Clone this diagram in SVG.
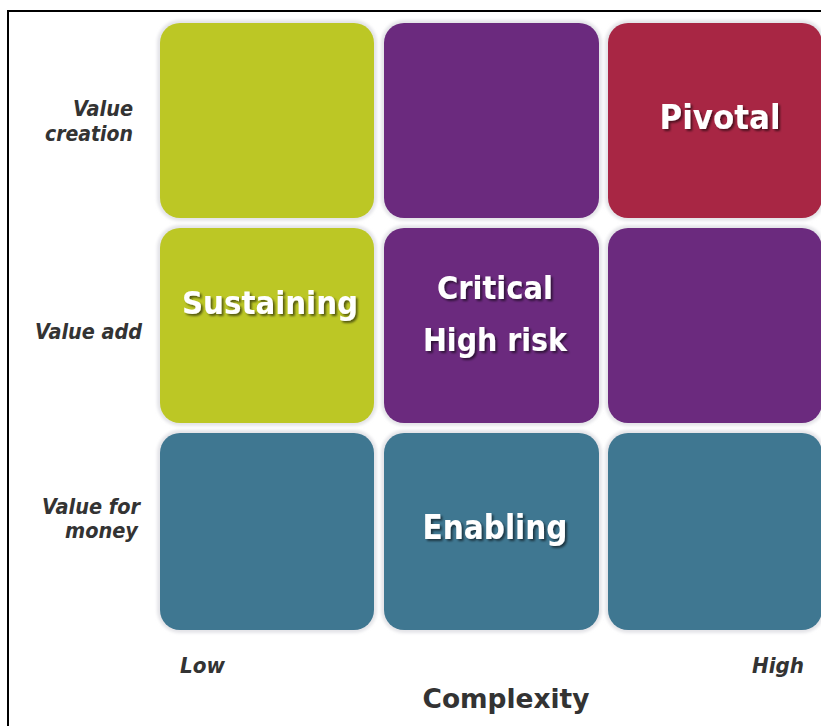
<svg xmlns="http://www.w3.org/2000/svg" width="821" height="726" viewBox="0 0 821 726">
  <defs>
    <filter id="shadow" x="-10%" y="-20%" width="130%" height="160%">
      <feDropShadow dx="2" dy="2" stdDeviation="1" flood-color="#000" flood-opacity="0.55"/>
    </filter>
    <filter id="halo" x="-5%" y="-5%" width="110%" height="110%">
      <feGaussianBlur stdDeviation="1.5"/>
    </filter>
  </defs>
  <style>
    .halo { fill: #e4e4e8; filter: url(#halo); }
    .green { fill: #bcc725; }
    .purple { fill: #6b2a7e; }
    .red { fill: #a82644; }
    .teal { fill: #3f7791; }
    .tile-label { font-family: "DejaVu Sans", Verdana, sans-serif; font-weight: bold; fill: #ffffff; text-anchor: middle; filter: url(#shadow); }
    .axis { font-family: "DejaVu Sans", Verdana, sans-serif; font-weight: bold; font-style: italic; fill: #333333; font-size: 21px; }
    .title { font-family: "DejaVu Sans", Verdana, sans-serif; font-weight: bold; fill: #333333; font-size: 27px; text-anchor: middle; }
  </style>

  <rect x="0" y="0" width="821" height="726" fill="#ffffff"/>
  <!-- frame -->
  <rect x="8" y="11" width="840" height="740" fill="none" stroke="#000000" stroke-width="2"/>

  <!-- row 1: value creation -->
  <g id="tile-r1c1">
    <rect class="halo" x="157" y="20" width="220" height="201" rx="23"/>
    <rect class="green" x="160" y="23" width="214" height="195" rx="20"/>
  </g>
  <g id="tile-r1c2">
    <rect class="halo" x="381" y="20" width="221" height="201" rx="23"/>
    <rect class="purple" x="384" y="23" width="215" height="195" rx="20"/>
  </g>
  <g id="tile-r1c3">
    <rect class="halo" x="605" y="20" width="220" height="201" rx="23"/>
    <rect class="red" x="608" y="23" width="214" height="195" rx="20"/>
    <text class="tile-label" x="720" y="129" font-size="34" textLength="121" lengthAdjust="spacingAndGlyphs">Pivotal</text>
  </g>

  <!-- row 2: value add -->
  <g id="tile-r2c1">
    <rect class="halo" x="157" y="225" width="220" height="201" rx="23"/>
    <rect class="green" x="160" y="228" width="214" height="195" rx="20"/>
    <text class="tile-label" x="270" y="314" font-size="32" textLength="176" lengthAdjust="spacingAndGlyphs">Sustaining</text>
  </g>
  <g id="tile-r2c2">
    <rect class="halo" x="381" y="225" width="221" height="201" rx="23"/>
    <rect class="purple" x="384" y="228" width="215" height="195" rx="20"/>
    <text class="tile-label" x="495" y="299" font-size="32" textLength="116" lengthAdjust="spacingAndGlyphs">Critical</text>
    <text class="tile-label" x="495" y="351" font-size="32" textLength="144" lengthAdjust="spacingAndGlyphs">High risk</text>
  </g>
  <g id="tile-r2c3">
    <rect class="halo" x="605" y="225" width="220" height="201" rx="23"/>
    <rect class="purple" x="608" y="228" width="214" height="195" rx="20"/>
  </g>

  <!-- row 3: value for money -->
  <g id="tile-r3c1">
    <rect class="halo" x="157" y="430" width="220" height="203" rx="23"/>
    <rect class="teal" x="160" y="433" width="214" height="197" rx="20"/>
  </g>
  <g id="tile-r3c2">
    <rect class="halo" x="381" y="430" width="221" height="203" rx="23"/>
    <rect class="teal" x="384" y="433" width="215" height="197" rx="20"/>
    <text class="tile-label" x="495" y="539" font-size="33" textLength="145" lengthAdjust="spacingAndGlyphs">Enabling</text>
  </g>
  <g id="tile-r3c3">
    <rect class="halo" x="605" y="430" width="220" height="203" rx="23"/>
    <rect class="teal" x="608" y="433" width="214" height="197" rx="20"/>
  </g>

  <!-- row labels -->
  <g id="label-value-creation" class="axis" text-anchor="end">
    <text x="133" y="116" textLength="60" lengthAdjust="spacingAndGlyphs">Value</text>
    <text x="133" y="141" textLength="88" lengthAdjust="spacingAndGlyphs">creation</text>
  </g>
  <g id="label-value-add" class="axis" text-anchor="end">
    <text x="142" y="339" textLength="107" lengthAdjust="spacingAndGlyphs">Value add</text>
  </g>
  <g id="label-value-for-money" class="axis" text-anchor="end">
    <text x="140" y="514" textLength="98" lengthAdjust="spacingAndGlyphs">Value for</text>
    <text x="138" y="538" textLength="73" lengthAdjust="spacingAndGlyphs">money</text>
  </g>

  <!-- column axis -->
  <g id="axis-low" class="axis">
    <text x="180" y="673" textLength="45" lengthAdjust="spacingAndGlyphs">Low</text>
  </g>
  <g id="axis-high" class="axis" text-anchor="end">
    <text x="804" y="673" textLength="52" lengthAdjust="spacingAndGlyphs">High</text>
  </g>
  <g id="axis-title">
    <text class="title" x="506" y="708" textLength="167" lengthAdjust="spacingAndGlyphs">Complexity</text>
  </g>
</svg>
